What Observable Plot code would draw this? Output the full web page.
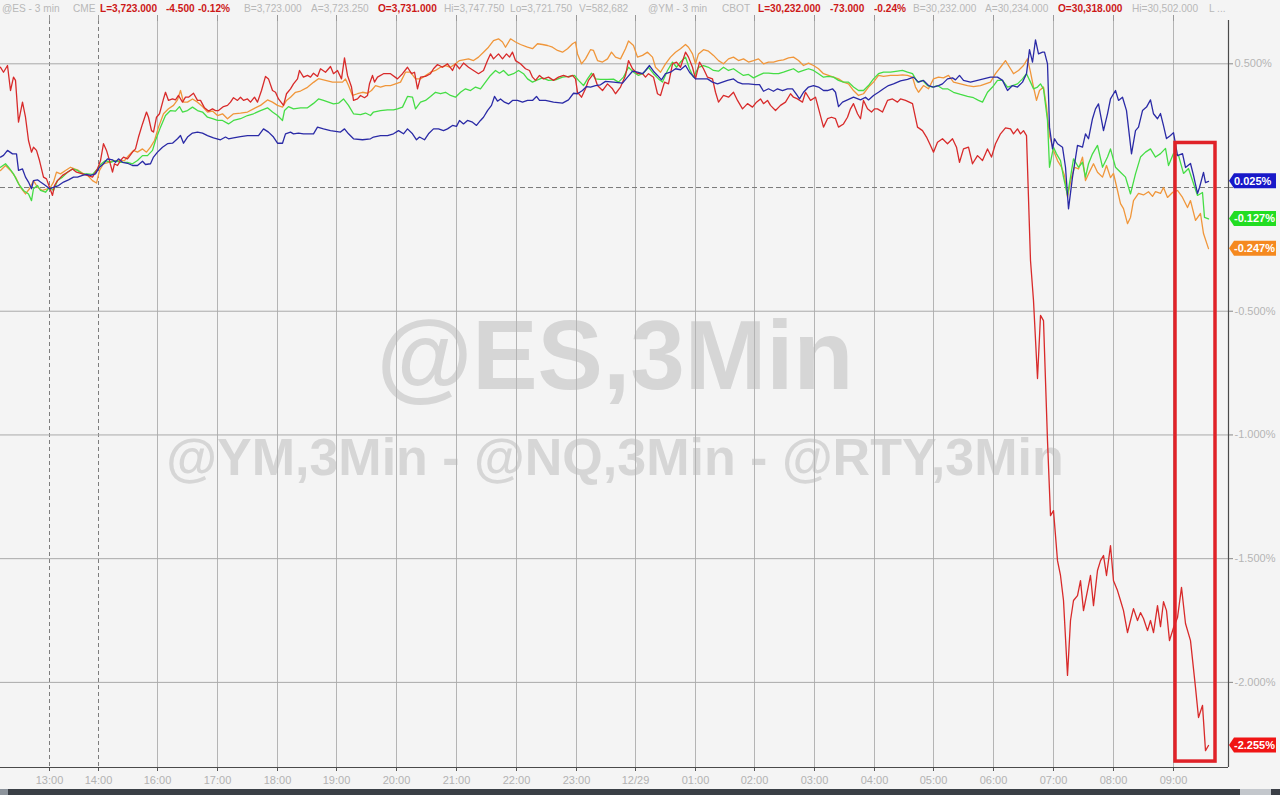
<!DOCTYPE html>
<html>
<head>
<meta charset="utf-8">
<script src="https://cdn.jsdelivr.net/npm/d3@7"></script>
<script src="https://cdn.jsdelivr.net/npm/@observablehq/plot@0.6"></script>
<style>
  html, body { margin: 0; padding: 0; background: #f4f4f4; }
  body { width: 1280px; height: 795px; overflow: hidden; position: relative; font-family: "Liberation Sans", Arial, sans-serif; }
  #hdr span { position: absolute; top: 2px; font-size: 11px; white-space: nowrap; color: #b8b8b8; transform: scaleX(0.92); transform-origin: 0 50%; }
  #hdr span.r { color: #cc1818; font-weight: bold; }
  .wm { position: absolute; left: 0; width: 1230px; text-align: center; font-weight: bold; color: #d6d6d6; white-space: nowrap; }
  #chart { position: absolute; left: 0; top: 0; }
  #scroll { position: absolute; left: 0; top: 789px; width: 1280px; height: 6px; background: #3a3f46; }
  #scroll .a { position: absolute; left: 0; top: 0; width: 8px; height: 6px; background: #8c939b; }
  #scroll .b { position: absolute; left: 1240px; top: 0; width: 31px; height: 6px; background: #c3c7cc; }
</style>
</head>
<body>
<div class="wm" style="top:300px;font-size:98px;line-height:110px;">@ES,3Min</div>
<div class="wm" style="top:427px;font-size:52px;line-height:60px;">@YM,3Min - @NQ,3Min - @RTY,3Min</div>
<div id="hdr"></div>
<div id="chart"></div>
<div id="scroll"><div class="a"></div><div class="b"></div></div>
<script>
// ---- header quote strip ----
const headerTokens = [
  ["@ES - 3 min", 2, 0], ["CME", 73, 0], ["L=3,723.000", 100, 1], ["-4.500", 166, 1], ["-0.12%", 198, 1],
  ["B=3,723.000", 244, 0], ["A=3,723.250", 311, 0], ["O=3,731.000", 378, 1], ["Hi=3,747.750", 444, 0],
  ["Lo=3,721.750", 510, 0], ["V=582,682", 579, 0],
  ["@YM - 3 min", 648, 0], ["CBOT", 722, 0], ["L=30,232.000", 758, 1], ["-73.000", 830, 1], ["-0.24%", 874, 1],
  ["B=30,232.000", 913, 0], ["A=30,234.000", 985, 0], ["O=30,318.000", 1058, 1], ["Hi=30,502.000", 1132, 0], ["L ...", 1209, 0]
];

// ---- time axis (minutes from chart start) ----
const tickMinutes = [49, 98, 157, 217, 277, 336, 396, 456, 516, 576, 635, 695, 754, 814, 874, 933, 993, 1053, 1113, 1173];
const tickLabels = ["13:00", "14:00", "16:00", "17:00", "18:00", "19:00", "20:00", "21:00", "22:00", "23:00", "12/29",
                    "01:00", "02:00", "03:00", "04:00", "05:00", "06:00", "07:00", "08:00", "09:00"];
const sessionBreaks = [49, 98];
const yTicks = [0.5, 0, -0.5, -1, -1.5, -2];

// ---- series: [minute, % change] ----
const rty = [[0,0.486],[3,0.466],[7,0.493],[10,0.392],[13,0.446],[15,0.433],[18,0.264],[22,0.345],[25,0.284],[28,0.190],[31,0.143],[33,0.163],[36,0.150],[39,0.109],[43,0.042],[46,0.035],[49,0.001],[52,-0.032],[54,0.008],[57,0.028],[62,0.049],[67,0.062],[72,0.075],[76,0.062],[82,0.055],[87,0.049],[92,0.042],[97,0.075],[100,0.109],[103,0.177],[106,0.150],[108,0.123],[112,0.062],[114,0.096],[117,0.089],[120,0.109],[123,0.123],[127,0.116],[132,0.143],[135,0.156],[138,0.204],[142,0.257],[146,0.305],[148,0.284],[151,0.230],[153,0.224],[156,0.284],[159,0.298],[163,0.358],[165,0.385],[168,0.352],[172,0.358],[175,0.354],[178,0.372],[182,0.345],[185,0.365],[188,0.365],[193,0.381],[197,0.352],[200,0.352],[204,0.322],[208,0.309],[212,0.318],[215,0.311],[218,0.311],[223,0.327],[227,0.332],[230,0.345],[233,0.363],[237,0.352],[240,0.365],[243,0.352],[247,0.358],[250,0.345],[254,0.365],[257,0.345],[261,0.392],[265,0.449],[268,0.439],[272,0.392],[275,0.385],[278,0.358],[283,0.332],[286,0.379],[290,0.399],[293,0.419],[297,0.439],[299,0.473],[303,0.446],[307,0.453],[310,0.446],[313,0.462],[317,0.449],[320,0.480],[325,0.466],[330,0.489],[333,0.460],[337,0.473],[341,0.439],[344,0.524],[347,0.453],[351,0.406],[353,0.352],[357,0.358],[360,0.372],[364,0.363],[367,0.372],[369,0.419],[372,0.453],[374,0.426],[377,0.446],[383,0.460],[390,0.460],[397,0.439],[402,0.460],[407,0.486],[411,0.460],[414,0.466],[417,0.399],[420,0.446],[425,0.449],[430,0.460],[433,0.480],[437,0.497],[442,0.486],[447,0.500],[452,0.473],[455,0.500],[459,0.480],[463,0.503],[468,0.486],[473,0.473],[478,0.460],[483,0.473],[487,0.513],[490,0.540],[493,0.520],[498,0.540],[502,0.520],[506,0.540],[509,0.527],[512,0.547],[515,0.513],[520,0.500],[525,0.480],[529,0.473],[532,0.446],[535,0.433],[539,0.453],[543,0.439],[548,0.446],[553,0.433],[558,0.446],[563,0.453],[568,0.446],[572,0.453],[575,0.439],[577,0.385],[581,0.365],[585,0.399],[588,0.433],[593,0.460],[597,0.412],[602,0.392],[607,0.419],[612,0.399],[615,0.379],[620,0.406],[625,0.453],[628,0.513],[632,0.480],[637,0.460],[642,0.460],[645,0.446],[648,0.460],[653,0.446],[657,0.379],[660,0.372],[664,0.426],[668,0.419],[672,0.500],[676,0.507],[680,0.486],[685,0.547],[688,0.527],[692,0.486],[695,0.439],[699,0.507],[703,0.480],[707,0.446],[712,0.439],[715,0.385],[718,0.345],[723,0.372],[728,0.365],[733,0.385],[737,0.352],[742,0.318],[747,0.339],[752,0.325],[756,0.345],[760,0.358],[763,0.339],[767,0.352],[770,0.332],[775,0.311],[780,0.332],[785,0.345],[790,0.379],[793,0.365],[797,0.358],[802,0.345],[805,0.385],[810,0.352],[815,0.365],[819,0.305],[823,0.244],[827,0.278],[831,0.284],[835,0.278],[838,0.244],[843,0.257],[847,0.284],[850,0.318],[853,0.339],[857,0.298],[860,0.278],[863,0.352],[867,0.318],[871,0.305],[874,0.318],[877,0.318],[882,0.305],[887,0.352],[892,0.358],[897,0.345],[900,0.358],[905,0.352],[912,0.339],[917,0.244],[922,0.230],[926,0.204],[930,0.170],[933,0.143],[937,0.183],[942,0.197],[947,0.177],[952,0.197],[956,0.163],[959,0.102],[963,0.156],[968,0.163],[972,0.096],[977,0.129],[982,0.109],[987,0.156],[991,0.123],[995,0.177],[1000,0.217],[1005,0.241],[1010,0.237],[1013,0.217],[1017,0.237],[1020,0.217],[1023,0.230],[1026,0.210],[1030,-0.295],[1033,-0.457],[1037,-0.772],[1040,-0.517],[1043,-0.538],[1047,-1.023],[1050,-1.326],[1053,-1.306],[1057,-1.508],[1060,-1.568],[1063,-1.669],[1067,-1.972],[1070,-1.750],[1073,-1.669],[1077,-1.649],[1080,-1.589],[1083,-1.710],[1087,-1.629],[1090,-1.568],[1093,-1.690],[1097,-1.548],[1100,-1.508],[1103,-1.487],[1106,-1.568],[1110,-1.447],[1113,-1.589],[1117,-1.629],[1120,-1.669],[1123,-1.710],[1127,-1.799],[1130,-1.750],[1133,-1.702],[1137,-1.750],[1140,-1.718],[1143,-1.742],[1147,-1.791],[1150,-1.750],[1153,-1.799],[1157,-1.690],[1160,-1.775],[1163,-1.674],[1166,-1.710],[1169,-1.831],[1173,-1.779],[1177,-1.738],[1181,-1.616],[1185,-1.762],[1190,-1.831],[1195,-2.021],[1198,-2.142],[1202,-2.093],[1205,-2.276],[1208,-2.255]];

const nq = [[0,0.123],[3,0.130],[7,0.150],[12,0.136],[16,0.136],[18,0.069],[22,0.075],[25,0.042],[28,0.022],[31,-0.005],[33,0.028],[37,0.031],[40,0.022],[45,0.008],[49,-0.005],[53,0.001],[58,0.008],[63,0.022],[68,0.031],[73,0.042],[77,0.042],[82,0.049],[86,0.053],[90,0.049],[95,0.055],[99,0.082],[103,0.096],[107,0.116],[112,0.112],[115,0.102],[118,0.116],[122,0.102],[127,0.098],[132,0.089],[137,0.089],[142,0.106],[145,0.093],[150,0.096],[153,0.123],[157,0.143],[162,0.163],[167,0.177],[172,0.179],[177,0.197],[180,0.210],[183,0.179],[187,0.204],[192,0.220],[197,0.224],[202,0.220],[207,0.210],[213,0.201],[220,0.193],[225,0.204],[228,0.197],[233,0.201],[240,0.206],[247,0.210],[253,0.210],[258,0.210],[263,0.237],[268,0.224],[273,0.204],[277,0.179],[282,0.179],[285,0.217],[290,0.224],[293,0.217],[298,0.220],[303,0.217],[310,0.217],[313,0.217],[317,0.244],[323,0.237],[330,0.230],[340,0.224],[344,0.237],[348,0.217],[353,0.197],[362,0.193],[370,0.197],[373,0.204],[380,0.210],[387,0.210],[393,0.217],[398,0.230],[403,0.217],[407,0.237],[412,0.217],[416,0.193],[419,0.204],[424,0.193],[428,0.217],[433,0.237],[438,0.237],[443,0.230],[447,0.237],[452,0.251],[456,0.247],[459,0.271],[463,0.257],[467,0.271],[472,0.264],[476,0.251],[480,0.271],[483,0.284],[487,0.311],[491,0.332],[494,0.368],[497,0.349],[500,0.358],[504,0.345],[508,0.338],[512,0.352],[517,0.352],[522,0.345],[527,0.352],[532,0.352],[536,0.368],[539,0.352],[545,0.352],[553,0.345],[562,0.341],[568,0.354],[573,0.381],[577,0.379],[582,0.392],[586,0.408],[590,0.406],[595,0.412],[600,0.415],[605,0.429],[613,0.426],[622,0.422],[627,0.446],[632,0.470],[637,0.466],[642,0.460],[645,0.473],[649,0.493],[653,0.470],[657,0.453],[661,0.435],[665,0.460],[670,0.466],[675,0.480],[680,0.476],[685,0.493],[689,0.466],[695,0.439],[700,0.439],[707,0.439],[712,0.426],[717,0.419],[722,0.426],[727,0.433],[733,0.439],[737,0.426],[742,0.419],[748,0.419],[755,0.416],[759,0.416],[763,0.389],[768,0.399],[773,0.389],[777,0.399],[782,0.392],[787,0.399],[792,0.399],[796,0.376],[799,0.358],[803,0.385],[808,0.406],[813,0.412],[818,0.406],[823,0.392],[827,0.392],[832,0.399],[835,0.385],[838,0.327],[842,0.345],[847,0.354],[853,0.365],[860,0.354],[865,0.365],[868,0.354],[873,0.372],[878,0.385],[883,0.399],[888,0.412],[893,0.419],[900,0.431],[907,0.437],[913,0.446],[918,0.426],[923,0.433],[928,0.412],[933,0.406],[938,0.412],[942,0.419],[947,0.439],[952,0.443],[955,0.435],[959,0.453],[963,0.433],[970,0.426],[977,0.433],[983,0.439],[990,0.446],[997,0.446],[1002,0.433],[1007,0.392],[1012,0.412],[1017,0.406],[1022,0.426],[1026,0.460],[1029,0.557],[1032,0.507],[1035,0.597],[1038,0.540],[1042,0.547],[1044,0.547],[1047,0.500],[1049,0.244],[1052,0.156],[1054,0.197],[1057,0.177],[1062,0.163],[1065,0.082],[1068,-0.086],[1072,0.042],[1077,0.170],[1082,0.163],[1085,0.217],[1088,0.197],[1092,0.278],[1095,0.318],[1098,0.338],[1103,0.230],[1107,0.298],[1110,0.358],[1115,0.392],[1118,0.352],[1122,0.365],[1126,0.311],[1131,0.136],[1135,0.230],[1138,0.244],[1142,0.311],[1146,0.325],[1150,0.354],[1153,0.298],[1157,0.278],[1160,0.299],[1163,0.250],[1166,0.198],[1170,0.210],[1173,0.222],[1177,0.129],[1182,0.137],[1185,0.081],[1190,0.097],[1193,0.049],[1197,-0.024],[1199,0.000],[1203,0.061],[1205,0.020],[1208,0.025]];

const es = [[0,0.082],[5,0.096],[8,0.082],[13,0.055],[18,0.015],[23,-0.012],[28,-0.026],[31,-0.053],[33,-0.005],[37,0.008],[40,-0.012],[45,-0.019],[49,0.001],[53,-0.012],[57,0.028],[62,0.042],[67,0.062],[72,0.075],[77,0.069],[82,0.055],[87,0.055],[92,0.053],[97,0.075],[100,0.093],[105,0.109],[110,0.102],[115,0.109],[120,0.102],[127,0.102],[132,0.096],[137,0.109],[142,0.129],[147,0.129],[152,0.150],[155,0.190],[160,0.244],[165,0.291],[170,0.311],[175,0.309],[179,0.327],[182,0.305],[187,0.311],[192,0.325],[197,0.311],[202,0.305],[207,0.284],[212,0.278],[217,0.271],[222,0.271],[228,0.257],[233,0.271],[240,0.278],[247,0.291],[253,0.298],[260,0.311],[267,0.322],[272,0.305],[277,0.291],[282,0.271],[284,0.311],[288,0.327],[293,0.318],[300,0.322],[307,0.322],[313,0.340],[318,0.358],[323,0.352],[328,0.345],[333,0.338],[338,0.341],[343,0.358],[348,0.332],[353,0.298],[360,0.295],[365,0.301],[370,0.291],[373,0.305],[380,0.311],[387,0.314],[393,0.314],[397,0.318],[402,0.325],[407,0.368],[412,0.365],[415,0.318],[420,0.345],[425,0.352],[430,0.368],[435,0.385],[440,0.379],[445,0.385],[450,0.372],[455,0.365],[460,0.385],[465,0.399],[470,0.392],[475,0.406],[480,0.399],[485,0.426],[490,0.453],[495,0.473],[499,0.462],[503,0.473],[508,0.453],[513,0.460],[518,0.473],[523,0.460],[527,0.439],[532,0.426],[537,0.435],[542,0.443],[548,0.433],[555,0.435],[562,0.446],[568,0.449],[574,0.453],[578,0.433],[583,0.412],[587,0.439],[591,0.462],[595,0.439],[600,0.437],[607,0.437],[613,0.438],[618,0.426],[623,0.446],[628,0.486],[633,0.466],[638,0.453],[643,0.462],[648,0.486],[653,0.460],[658,0.439],[662,0.426],[667,0.473],[672,0.507],[676,0.486],[680,0.507],[685,0.527],[689,0.480],[693,0.446],[698,0.486],[703,0.493],[708,0.486],[713,0.473],[718,0.470],[723,0.486],[728,0.473],[733,0.480],[738,0.466],[743,0.453],[748,0.457],[753,0.443],[758,0.453],[763,0.462],[768,0.462],[773,0.460],[778,0.460],[783,0.466],[788,0.473],[793,0.480],[798,0.466],[803,0.473],[808,0.480],[813,0.473],[818,0.460],[823,0.446],[828,0.449],[833,0.446],[838,0.433],[843,0.426],[848,0.426],[853,0.406],[858,0.392],[863,0.392],[868,0.412],[873,0.439],[878,0.460],[883,0.466],[890,0.466],[897,0.470],[902,0.473],[907,0.466],[912,0.460],[917,0.426],[922,0.433],[927,0.412],[932,0.406],[937,0.412],[942,0.399],[947,0.399],[953,0.385],[960,0.376],[967,0.368],[973,0.363],[978,0.352],[982,0.345],[987,0.385],[992,0.406],[997,0.433],[1002,0.433],[1007,0.406],[1012,0.412],[1017,0.419],[1022,0.439],[1026,0.460],[1030,0.426],[1033,0.399],[1037,0.406],[1040,0.419],[1043,0.399],[1047,0.271],[1049,0.082],[1053,0.163],[1056,0.136],[1060,0.109],[1063,0.042],[1067,-0.032],[1070,0.042],[1073,0.116],[1078,0.082],[1082,0.102],[1085,0.042],[1088,0.096],[1092,0.136],[1097,0.170],[1102,0.082],[1107,0.123],[1110,0.156],[1115,0.082],[1120,0.062],[1125,0.042],[1130,-0.026],[1135,0.055],[1140,0.123],[1145,0.143],[1150,0.156],[1155,0.123],[1160,0.137],[1165,0.158],[1168,0.089],[1173,0.137],[1178,0.130],[1183,0.057],[1188,0.077],[1193,0.016],[1197,-0.032],[1202,-0.020],[1204,-0.121],[1208,-0.127]];

const ym = [[0,0.069],[5,0.089],[10,0.069],[15,0.042],[20,0.001],[25,-0.026],[29,-0.005],[33,0.028],[37,0.001],[42,-0.012],[47,-0.005],[50,0.001],[53,0.022],[56,0.062],[60,0.055],[65,0.069],[70,0.082],[74,0.075],[78,0.069],[83,0.055],[87,0.049],[92,0.028],[96,0.018],[99,0.069],[103,0.096],[108,0.102],[113,0.109],[118,0.109],[124,0.109],[128,0.129],[133,0.150],[137,0.143],[142,0.156],[146,0.143],[150,0.163],[154,0.190],[158,0.244],[163,0.298],[168,0.318],[173,0.332],[177,0.354],[180,0.392],[183,0.345],[187,0.345],[192,0.358],[197,0.345],[202,0.327],[207,0.305],[212,0.309],[217,0.291],[222,0.298],[227,0.278],[233,0.298],[240,0.301],[247,0.305],[253,0.318],[260,0.332],[267,0.354],[272,0.345],[277,0.332],[282,0.325],[286,0.352],[290,0.365],[295,0.385],[300,0.390],[307,0.405],[313,0.425],[318,0.440],[325,0.433],[332,0.426],[337,0.426],[342,0.426],[345,0.439],[348,0.412],[352,0.372],[357,0.379],[362,0.385],[367,0.381],[371,0.392],[375,0.412],[380,0.406],[385,0.412],[390,0.412],[395,0.419],[400,0.426],[405,0.466],[410,0.466],[415,0.439],[420,0.439],[425,0.453],[430,0.466],[435,0.473],[440,0.486],[445,0.493],[450,0.486],[455,0.500],[459,0.513],[463,0.516],[468,0.520],[473,0.513],[478,0.527],[483,0.547],[488,0.567],[493,0.594],[498,0.601],[502,0.588],[505,0.567],[510,0.601],[515,0.588],[520,0.578],[527,0.567],[532,0.561],[537,0.581],[542,0.578],[547,0.574],[552,0.567],[557,0.554],[562,0.547],[567,0.561],[572,0.581],[575,0.588],[577,0.540],[581,0.500],[585,0.520],[590,0.557],[593,0.554],[597,0.513],[602,0.507],[607,0.520],[611,0.547],[615,0.527],[620,0.520],[625,0.561],[628,0.592],[633,0.574],[637,0.527],[642,0.534],[647,0.547],[652,0.527],[655,0.486],[660,0.466],[665,0.500],[670,0.527],[675,0.547],[680,0.561],[685,0.578],[688,0.567],[692,0.540],[695,0.500],[698,0.540],[703,0.557],[708,0.551],[713,0.534],[718,0.513],[723,0.500],[728,0.520],[733,0.527],[738,0.513],[743,0.520],[748,0.507],[753,0.513],[758,0.520],[763,0.500],[768,0.507],[773,0.507],[778,0.513],[783,0.516],[788,0.524],[793,0.527],[798,0.513],[803,0.493],[808,0.503],[813,0.493],[818,0.480],[823,0.460],[828,0.453],[833,0.446],[838,0.439],[843,0.426],[848,0.419],[853,0.392],[858,0.372],[863,0.379],[868,0.406],[873,0.426],[878,0.453],[883,0.449],[890,0.453],[897,0.453],[902,0.455],[907,0.453],[912,0.446],[915,0.406],[918,0.385],[923,0.412],[928,0.399],[933,0.439],[938,0.446],[943,0.443],[948,0.453],[953,0.426],[960,0.419],[967,0.412],[973,0.408],[980,0.412],[985,0.419],[990,0.426],[995,0.460],[1000,0.486],[1005,0.513],[1010,0.480],[1013,0.460],[1018,0.473],[1023,0.493],[1027,0.520],[1030,0.466],[1033,0.406],[1036,0.352],[1039,0.392],[1043,0.406],[1046,0.325],[1049,0.210],[1053,0.150],[1057,0.109],[1061,0.082],[1064,0.049],[1067,-0.039],[1071,0.042],[1074,0.082],[1078,0.075],[1082,0.123],[1085,0.028],[1088,0.055],[1093,0.096],[1097,0.062],[1102,0.042],[1106,0.089],[1110,0.040],[1113,0.057],[1117,-0.012],[1120,-0.065],[1123,-0.085],[1127,-0.146],[1130,-0.121],[1133,-0.053],[1138,-0.024],[1143,-0.030],[1148,-0.017],[1152,-0.036],[1155,-0.017],[1160,-0.024],[1163,0.000],[1167,-0.040],[1172,-0.020],[1177,-0.012],[1182,-0.040],[1187,-0.081],[1190,-0.053],[1195,-0.133],[1200,-0.105],[1203,-0.186],[1208,-0.247]];

const seriesNames = ["YM", "ES", "RTY", "NQ"];
const seriesData = [ym, es, rty, nq];
const lineColors = ["#f0963a", "#45dd45", "#d82a2a", "#2a2aa6"];
const tagColors = ["#f5891f", "#22dd22", "#f01414", "#1818c8"];
const lastValues = [-0.247, -0.127, -2.255, 0.025];
// highlighted window (minutes, % range)
const highlight = [{t1: 1175, t2: 1215, v1: 0.18, v2: -2.32}];

// ---- build ----
const hdr = document.getElementById("hdr");
for (const [txt, x, red] of headerTokens) {
  const s = document.createElement("span");
  s.textContent = txt; s.style.left = x + "px"; if (red) s.className = "r";
  hdr.appendChild(s);
}

const xMax = 1228, yMin = -2.344, yMax = 0.675;
const labelOf = new Map(tickMinutes.map((t, i) => [t, tickLabels[i]]));
const rows = seriesData.flatMap((arr, k) => arr.map(([t, v]) => ({t, v, s: seriesNames[k]})));

const chart = Plot.plot({
  width: 1280, height: 795,
  marginTop: 20, marginRight: 52, marginBottom: 28, marginLeft: 0,
  style: {background: "transparent", fontFamily: "'Liberation Sans', Arial, sans-serif", fontSize: "11px", overflow: "visible"},
  x: {domain: [0, xMax], axis: null},
  y: {domain: [yMin, yMax], axis: null},
  color: {domain: seriesNames, range: lineColors},
  marks: [
    Plot.ruleX(tickMinutes.filter(t => !sessionBreaks.includes(t)), {stroke: "#b4b4b4", strokeWidth: 1}),
    Plot.ruleX(sessionBreaks, {stroke: "#7d7d7d", strokeWidth: 1, strokeDasharray: "4,3"}),
    Plot.ruleY(yTicks.filter(d => d !== 0), {stroke: "#a9a9a9", strokeWidth: 1}),
    Plot.ruleY([0], {stroke: "#7a7a7a", strokeWidth: 1, strokeDasharray: "5,3"}),
    Plot.axisX({anchor: "top", ticks: tickMinutes, tickFormat: () => "", tickSize: 6, stroke: "#9a9a9a"}),
    Plot.axisX({anchor: "bottom", ticks: tickMinutes, tickFormat: d => labelOf.get(d), tickSize: 4, tickPadding: 5, stroke: "#555", color: "#b2b2b2"}),
    Plot.ruleY([yMin], {stroke: "#4a4a4a", strokeWidth: 1.2}),
    Plot.ruleX([xMax], {stroke: "#4a4a4a", strokeWidth: 1.2}),
    Plot.axisY({anchor: "right", ticks: yTicks, tickFormat: d => d === 0 ? "" : d.toFixed(3) + "%", tickSize: 4, tickPadding: 2, stroke: "#888", color: "#b4b4b4"}),
    Plot.line(rows, {x: "t", y: "v", z: "s", stroke: "s", strokeWidth: 1.3, curve: "linear"}),
    Plot.rect(highlight, {x1: "t1", x2: "t2", y1: "v1", y2: "v2", fill: "none", stroke: "#e02228", strokeWidth: 3.5})
  ]
});
document.getElementById("chart").appendChild(chart);

// end-value tags on the right axis, placed through Plot's y scale
const ys = chart.scale("y");
const svg = d3.select(chart);
const tags = svg.append("g").attr("text-anchor", "start");
lastValues.forEach((v, k) => {
  const y = ys.apply(v);
  const x0 = 1229, w = 47, h = 15;
  tags.append("path")
    .attr("d", `M${x0},${y} L${x0 + 5},${y - h / 2} L${x0 + w},${y - h / 2} L${x0 + w},${y + h / 2} L${x0 + 5},${y + h / 2} Z`)
    .attr("fill", tagColors[k]);
  tags.append("text")
    .attr("x", x0 + 5).attr("y", y).attr("dy", "0.36em")
    .attr("text-anchor", "start")
    .attr("fill", "white").attr("font-size", 11).attr("font-weight", "bold")
    .attr("font-family", "'Liberation Sans', Arial, sans-serif")
    .text(v.toFixed(3) + "%");
});
</script>
</body>
</html>
